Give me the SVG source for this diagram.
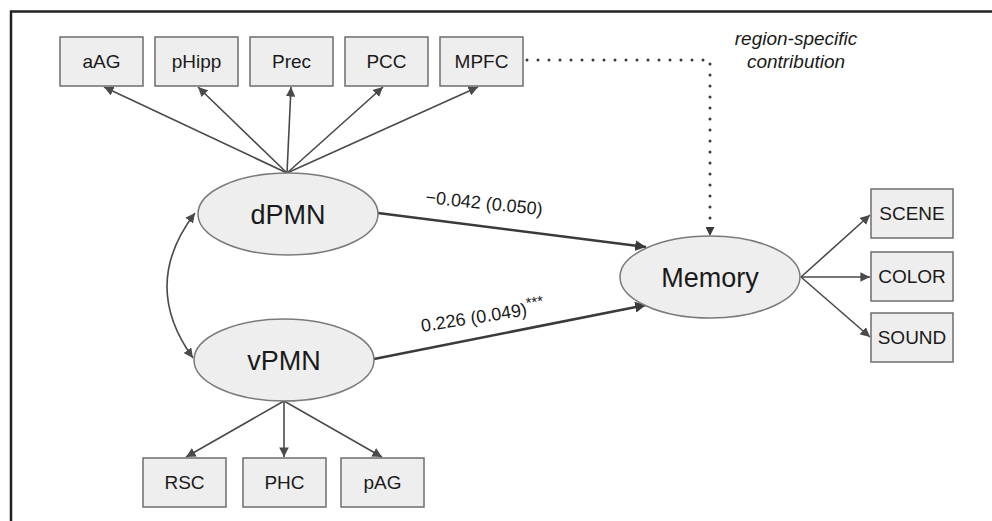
<svg xmlns="http://www.w3.org/2000/svg" width="992" height="521" viewBox="0 0 992 521">
<style>
.box{fill:#eeeeee;stroke:#6e6e6e;stroke-width:1.5}
.ell{fill:#eeeeee;stroke:#7a7a7a;stroke-width:1.5}
.bt{font-family:"Liberation Sans",Arial,sans-serif;font-size:19px;fill:#1a1a1a;text-anchor:middle}
.et{font-family:"Liberation Sans",Arial,sans-serif;font-size:27px;fill:#1a1a1a;text-anchor:middle}
.lab{font-family:"Liberation Sans",Arial,sans-serif;font-size:18px;fill:#1a1a1a}
.note{font-family:"Liberation Sans",Arial,sans-serif;font-size:19px;font-style:italic;fill:#1a1a1a;text-anchor:middle}
.thin{fill:none;stroke:#4a4a4a;stroke-width:1.6;marker-end:url(#ah)}
.thick{fill:none;stroke:#3a3a3a;stroke-width:2.6;marker-end:url(#ahb)}
.dot{fill:none;stroke:#3a3a3a;stroke-width:3;stroke-linecap:round;stroke-dasharray:0 11}
</style>
<defs>
<marker id="ah" viewBox="0 0 10 10" refX="10" refY="5" markerWidth="6" markerHeight="6" markerUnits="strokeWidth" orient="auto">
<path d="M0,0 L10,5 L0,10 z" fill="#4a4a4a"/>
</marker>
<marker id="ahs" viewBox="0 0 10 10" refX="10" refY="5" markerWidth="6" markerHeight="6" markerUnits="strokeWidth" orient="auto-start-reverse">
<path d="M0,0 L10,5 L0,10 z" fill="#4a4a4a"/>
</marker>
<marker id="ahb" viewBox="0 0 10 10" refX="10" refY="5" markerWidth="4.2" markerHeight="4.2" markerUnits="strokeWidth" orient="auto">
<path d="M0,0 L10,5 L0,10 z" fill="#3a3a3a"/>
</marker>
<marker id="ahd" viewBox="0 0 10 10" refX="10" refY="5" markerWidth="9" markerHeight="9" markerUnits="userSpaceOnUse" orient="auto">
<path d="M0,0 L10,5 L0,10 z" fill="#3a3a3a"/>
</marker>
</defs>
<rect x="0" y="0" width="992" height="521" fill="#ffffff"/>
<path d="M11,521 V11.5 H992" fill="none" stroke="#222222" stroke-width="2.5"/>

<g id="connectors">
<path class="thin" d="M287,173 L104,87"/>
<path class="thin" d="M287,173 L198,87"/>
<path class="thin" d="M287,173 L291,87"/>
<path class="thin" d="M287,173 L383,87"/>
<path class="thin" d="M287,173 L478,87"/>
<path class="thin" d="M284,401 L186,457"/>
<path class="thin" d="M284,401 L284,457"/>
<path class="thin" d="M284,401 L382,457"/>
<path class="thin" d="M801,277 L870,215"/>
<path class="thin" d="M801,277 L870,277"/>
<path class="thin" d="M801,277 L870,337"/>
<path class="thick" d="M378,213 L646,247"/>
<path class="thick" d="M374,359 L646,305"/>
<path class="thin" style="marker-start:url(#ahs)" d="M195,213 Q140,285 193,358"/>
<path class="dot" d="M516,60 H710 V228"/>
<path d="M710,226 L710,236" fill="none" stroke="none" marker-end="url(#ahd)"/>
<text class="lab" transform="translate(425,203) rotate(6)">−0.042 (0.050)</text>
<text class="lab" transform="translate(422,332) rotate(-9)">0.226 (0.049)<tspan font-size="15" dy="-7">***</tspan></text>
<text class="note" x="796" y="45">region-specific</text>
<text class="note" x="796" y="68">contribution</text>
</g>

<g id="aAG"><rect class="box" x="60" y="37" width="83" height="49"/><text class="bt" x="101.5" y="68">aAG</text></g>
<g id="pHipp"><rect class="box" x="155" y="37" width="83" height="49"/><text class="bt" x="196.5" y="68">pHipp</text></g>
<g id="Prec"><rect class="box" x="250" y="37" width="83" height="49"/><text class="bt" x="291.5" y="68">Prec</text></g>
<g id="PCC"><rect class="box" x="345" y="37" width="83" height="49"/><text class="bt" x="386.5" y="68">PCC</text></g>
<g id="MPFC"><rect class="box" x="440" y="37" width="83" height="49"/><text class="bt" x="481.5" y="68">MPFC</text></g>

<g id="dPMN"><ellipse class="ell" cx="288" cy="214" rx="90" ry="41"/><text class="et" x="288" y="223.5">dPMN</text></g>
<g id="vPMN"><ellipse class="ell" cx="284" cy="360" rx="90" ry="41"/><text class="et" x="284" y="369.5">vPMN</text></g>
<g id="Memory"><ellipse class="ell" cx="710" cy="277" rx="90" ry="41"/><text class="et" x="710" y="286.5">Memory</text></g>

<g id="RSC"><rect class="box" x="143" y="458" width="83" height="49"/><text class="bt" x="184.5" y="489">RSC</text></g>
<g id="PHC"><rect class="box" x="243" y="458" width="83" height="49"/><text class="bt" x="284.5" y="489">PHC</text></g>
<g id="pAG"><rect class="box" x="341" y="458" width="83" height="49"/><text class="bt" x="382.5" y="489">pAG</text></g>

<g id="SCENE"><rect class="box" x="871" y="189" width="82" height="49"/><text class="bt" x="912" y="220">SCENE</text></g>
<g id="COLOR"><rect class="box" x="871" y="252" width="82" height="49"/><text class="bt" x="912" y="283">COLOR</text></g>
<g id="SOUND"><rect class="box" x="871" y="313" width="82" height="49"/><text class="bt" x="912" y="344">SOUND</text></g>
</svg>
